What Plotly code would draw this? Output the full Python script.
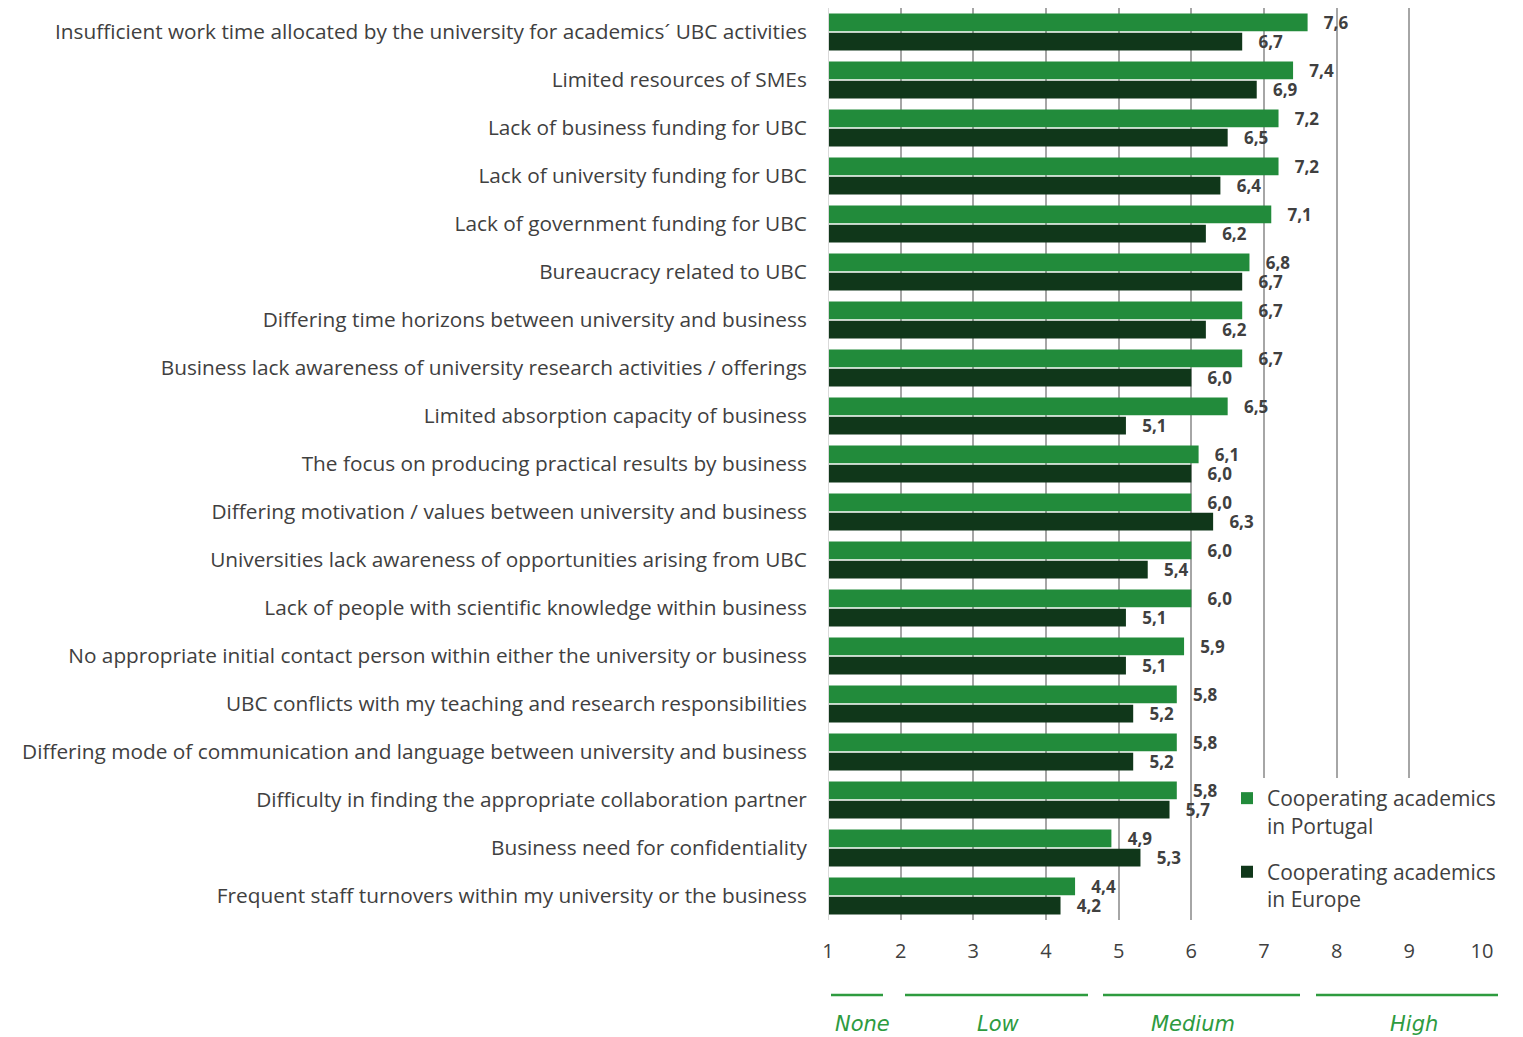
import plotly.graph_objects as go

categories = [
    "Insufficient work time allocated by the university for academics´ UBC activities",
    "Limited resources of SMEs",
    "Lack of business funding for UBC",
    "Lack of university funding for UBC",
    "Lack of government funding for UBC",
    "Bureaucracy related to UBC",
    "Differing time horizons between university and business",
    "Business lack awareness of university research activities / offerings",
    "Limited absorption capacity of business",
    "The focus on producing practical results by business",
    "Differing motivation / values between university and business",
    "Universities lack awareness of opportunities arising from UBC",
    "Lack of people with scientific knowledge within business",
    "No appropriate initial contact person within either the university or business",
    "UBC conflicts with my teaching and research responsibilities",
    "Differing mode of communication and language between university and business",
    "Difficulty in finding the appropriate collaboration partner",
    "Business need for confidentiality",
    "Frequent staff turnovers within my university or the business",
]
portugal = [7.6, 7.4, 7.2, 7.2, 7.1, 6.8, 6.7, 6.7, 6.5, 6.1, 6.0, 6.0, 6.0, 5.9, 5.8, 5.8, 5.8, 4.9, 4.4]
europe = [6.7, 6.9, 6.5, 6.4, 6.2, 6.7, 6.2, 6.0, 5.1, 6.0, 6.3, 5.4, 5.1, 5.1, 5.2, 5.2, 5.7, 5.3, 4.2]
series_names = ["Cooperating academics<br>in Portugal", "Cooperating academics<br>in Europe"]
scale_min = 1
tick_vals = list(range(1, 11))
band_labels = ["None", "Low", "Medium", "High"]

C_PT = "#228B3B"
C_EU = "#10371A"
TXT = "#404040"
BAND = "#2E9B3F"
FONT = "'Open Sans', sans-serif"

W, H = 1523, 1037
ML, MR, MT, MB = 828, 41, 8, 117
PW = W - ML - MR
PH = H - MT - MB


def px_x(p):
    return (p - ML) / PW


def px_y(p):
    return (H - MB - p) / PH


def fmt(v):
    return "\u00a0\u00a0\u00a0" + f"{v:.1f}".replace(".", ",")


fig = go.Figure()
for name, vals, col, grp in [(series_names[0], portugal, C_PT, "a"), (series_names[1], europe, C_EU, "b")]:
    fig.add_trace(go.Bar(
        y=categories,
        x=[v - scale_min for v in vals],
        base=scale_min,
        orientation="h",
        name=name,
        legendgroup=grp,
        marker=dict(color=col, line=dict(width=0)),
        text=[fmt(v) for v in vals],
        textposition="outside",
        constraintext="none",
        textfont=dict(family="'Open Sans', sans-serif", size=17, color=TXT, weight="bold"),
        cliponaxis=False,
    ))

band_px = [(831, 883), (905, 1088), (1103, 1300), (1316, 1498)]
label_cx = [862, 998, 1193, 1414]
shapes = []
annotations = []
for label, (a, b), cx in zip(band_labels, band_px, label_cx):
    shapes.append(dict(type="line", xref="paper", yref="paper", x0=px_x(a), x1=px_x(b),
                       y0=px_y(995), y1=px_y(995), line=dict(color=BAND, width=2.5)))
    annotations.append(dict(xref="paper", yref="paper", x=px_x(cx), y=px_y(1024), text=label,
                            showarrow=False, yanchor="middle", xanchor="center",
                            font=dict(family="'DejaVu Sans', sans-serif", size=21, color=BAND, style="italic")))

fig.update_layout(
    width=W, height=H,
    margin=dict(l=ML, r=MR, t=MT, b=MB),
    paper_bgcolor="white", plot_bgcolor="white",
    barmode="group", bargap=0.2, bargroupgap=0.08,
    separators=", ",
    font=dict(family=FONT, color=TXT),
    xaxis=dict(range=[1, 10], tickvals=tick_vals, showgrid=True, gridcolor="#A6A6A6", gridwidth=2,
               zeroline=False, showline=False, tickfont=dict(size=20, color=TXT),
               ticks="outside", ticklen=13, tickcolor="rgba(0,0,0,0)", fixedrange=True),
    yaxis=dict(autorange="reversed", showgrid=False, tickfont=dict(size=20.8, color=TXT, family=FONT),
               ticks="outside", ticklen=16, tickcolor="rgba(0,0,0,0)", showline=False),
    legend=dict(x=px_x(1227), xanchor="left", y=px_y(778), yanchor="top", valign="top",
                bgcolor="white", font=dict(size=21, color=TXT, family="'Open Sans', sans-serif"),
                traceorder="grouped", tracegroupgap=16, itemwidth=30),
    shapes=shapes + [dict(type="line", xref="x", yref="paper", x0=1, x1=1, y0=0, y1=1,
                          line=dict(color="#D9D9D9", width=2), layer="above")],
    annotations=annotations,
    showlegend=True,
)
fig.write_html("out.html")
